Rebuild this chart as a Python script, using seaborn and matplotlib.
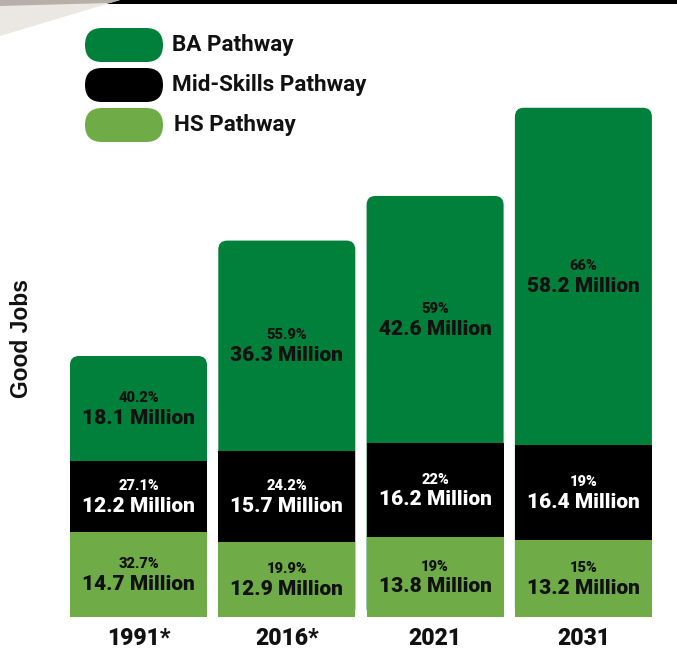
import matplotlib
matplotlib.use("Agg")
import matplotlib.pyplot as plt
from matplotlib.patches import FancyBboxPatch, Polygon, Rectangle
import seaborn as sns
import pandas as pd

# Good jobs by pathway, millions
years = ["1991*", "2016*", "2021", "2031"]
ba = [18.1, 36.3, 42.6, 58.2]
mid = [12.2, 15.7, 16.2, 16.4]
hs = [14.7, 12.9, 13.8, 13.2]
ba_pct = ["40.2%", "55.9%", "59%", "66%"]
mid_pct = ["27.1%", "24.2%", "22%", "19%"]
hs_pct = ["32.7%", "19.9%", "19%", "15%"]
series_names = ["BA Pathway", "Mid-Skills Pathway", "HS Pathway"]

C_BA = "#00803a"
C_MID = "#000000"
C_HS = "#6fab46"

sns.set_theme(style="white")
plt.rcParams["font.family"] = ["Roboto", "DejaVu Sans"]
HEAVY = 900

W, H = 677, 652
fig = plt.figure(figsize=(W / 100, H / 100), dpi=100)

ax_l, ax_r, ax_b, ax_t = 60, 665, 617, 100
ax = fig.add_axes([ax_l / W, (H - ax_b) / H, (ax_r - ax_l) / W, (ax_b - ax_t) / H])

df = pd.DataFrame({"year": years, "ba": ba, "mid": mid, "hs": hs})
df["total"] = df["ba"] + df["mid"] + df["hs"]
df["lower"] = df["mid"] + df["hs"]

width = 0.924
sns.barplot(data=df, x="year", y="total", color=C_BA, width=width, saturation=1,
            edgecolor="none", ax=ax)
# give the top segments rounded corners
px_per_x = 148.3
px_per_y = 5.8
r = 9 / px_per_x
aspect = px_per_x / px_per_y
for p in list(ax.patches):
    x0, y0 = p.get_x(), p.get_y()
    w, h = p.get_width(), p.get_height()
    p.remove()
    ax.add_patch(FancyBboxPatch((x0, y0), w, h,
                                boxstyle=f"round,pad=0,rounding_size={r}",
                                mutation_aspect=aspect, facecolor=C_BA,
                                edgecolor="none", zorder=1))
sns.barplot(data=df, x="year", y="lower", color=C_MID, width=width, saturation=1,
            edgecolor="none", ax=ax, zorder=2)
sns.barplot(data=df, x="year", y="hs", color=C_HS, width=width, saturation=1,
            edgecolor="none", ax=ax, zorder=3)

ax.set_xlim((ax_l - 138.5) / px_per_x, (ax_r - 138.5) / px_per_x)
ax.set_ylim(0, (ax_b - ax_t) / px_per_y)
ax.set_xlabel("")
ax.set_ylabel("")
ax.set_yticks([])
for s in ax.spines.values():
    s.set_visible(False)
ax.tick_params(axis="x", length=0, pad=7)
for lab in ax.get_xticklabels():
    lab.set_fontsize(16.5)
    lab.set_fontweight(HEAVY)
    lab.set_color("#111111")


def seg_label(i, bottom, val, pct, color):
    yc = bottom + val / 2
    ax.annotate(pct, (i, yc), xytext=(0, 7.5), textcoords="offset points",
                ha="center", va="center", fontsize=10.5, fontweight=HEAVY,
                color=color, zorder=5)
    ax.annotate(f"{val} Million", (i, yc), xytext=(0, -7), textcoords="offset points",
                ha="center", va="center", fontsize=15, fontweight=HEAVY,
                color=color, zorder=5)


for i in range(len(years)):
    seg_label(i, 0, hs[i], hs_pct[i], "#111111")
    seg_label(i, hs[i], mid[i], mid_pct[i], "#ffffff")
    seg_label(i, hs[i] + mid[i], ba[i], ba_pct[i], "#111111")

fig.text(22 / W, 1 - 339 / H, "Good Jobs", rotation=90, ha="center", va="center",
         fontsize=16.5, fontweight="bold", color="#111111",
         family=["Liberation Sans", "DejaVu Sans"])

# overlay in pixel units for the legend and header band
ov = fig.add_axes([0, 0, 1, 1], zorder=10)
ov.set_xlim(0, W)
ov.set_ylim(H, 0)
ov.axis("off")
ov.patch.set_alpha(0)
ov.add_patch(Rectangle((0, 0), W, 3.5, facecolor="#000000", edgecolor="none"))
ov.add_patch(Polygon([(0, 0), (120, 0), (0, 36)], closed=True,
                     facecolor="#ebe8e4", edgecolor="none"))
ov.add_patch(Polygon([(0, 0), (120, 0), (110, 3), (0, 6)], closed=True,
                     facecolor="#b5b0aa", edgecolor="none"))

legend_colors = [C_BA, C_MID, C_HS]
legend_y = [45, 85, 125]
text_x = [172, 172, 174]
for name, col, yc, tx in zip(series_names, legend_colors, legend_y, text_x):
    ov.add_patch(FancyBboxPatch((85 + 17, yc), 78 - 34, 0,
                                boxstyle="round,pad=17", facecolor=col,
                                edgecolor="none"))
    ov.text(tx, yc, name, ha="left", va="center", fontsize=16.2,
            fontweight="bold", color="#111111")

fig.savefig("out.png", dpi=100, facecolor="white")
